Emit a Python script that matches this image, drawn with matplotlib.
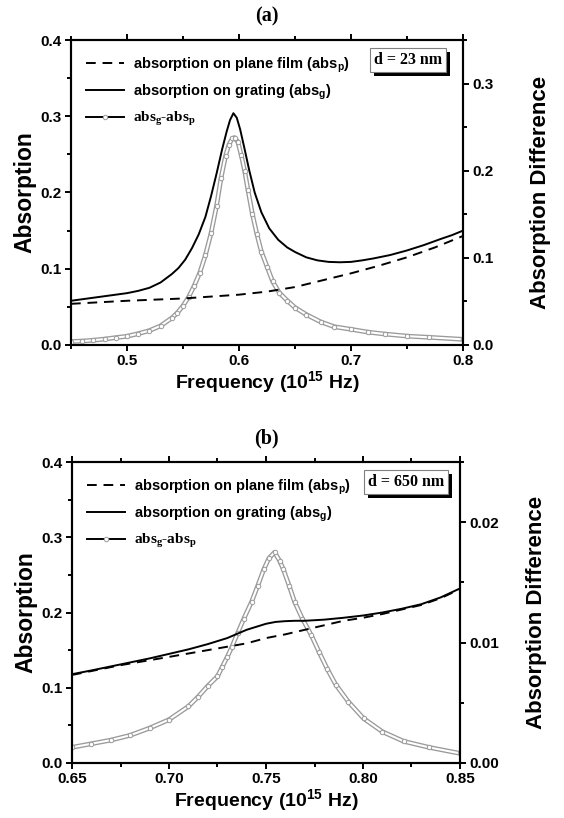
import matplotlib
matplotlib.use("Agg")
import matplotlib.pyplot as plt
from matplotlib.lines import Line2D
from matplotlib.patches import Rectangle
from matplotlib.ticker import MultipleLocator, FormatStrFormatter
from matplotlib.transforms import IdentityTransform

# ---- panel (a): d = 23 nm ----
freq_a_g = [0.45, 0.465, 0.48, 0.49, 0.50, 0.51, 0.52, 0.53, 0.54, 0.546, 0.552,
            0.558, 0.564, 0.570, 0.575, 0.580, 0.585, 0.589, 0.592, 0.595, 0.598,
            0.601, 0.605, 0.609, 0.614, 0.620, 0.627, 0.635, 0.643, 0.650, 0.660,
            0.670, 0.680, 0.690, 0.700, 0.710, 0.720, 0.735, 0.750, 0.765, 0.780,
            0.790, 0.800]
abs_g_a = [0.058, 0.061, 0.064, 0.066, 0.068, 0.071, 0.075, 0.082, 0.093, 0.101, 0.112,
           0.127, 0.145, 0.168, 0.195, 0.225, 0.257, 0.280, 0.295, 0.304, 0.298,
           0.283, 0.257, 0.230, 0.200, 0.174, 0.153, 0.138, 0.128, 0.122, 0.115,
           0.111, 0.109, 0.1085, 0.109, 0.111, 0.1135, 0.118, 0.124, 0.131, 0.139,
           0.144, 0.150]
freq_a_p = [0.45, 0.50, 0.55, 0.60, 0.625, 0.65, 0.675, 0.70, 0.725, 0.75, 0.775, 0.80]
abs_p_a = [0.054, 0.058, 0.061, 0.066, 0.070, 0.076, 0.085, 0.094, 0.104, 0.115, 0.128, 0.143]
freq_a_d = [0.45, 0.46, 0.47, 0.48, 0.49, 0.50, 0.51, 0.52, 0.53, 0.54, 0.545, 0.55,
            0.555, 0.56, 0.565, 0.570, 0.575, 0.580, 0.584, 0.588, 0.591, 0.594,
            0.596, 0.599, 0.602, 0.605, 0.608, 0.612, 0.616, 0.620, 0.625, 0.630,
            0.636, 0.643, 0.650, 0.660, 0.673, 0.685, 0.700, 0.715, 0.730, 0.750,
            0.770, 0.800]
diff_a = [0.004, 0.0045, 0.0055, 0.0068, 0.0085, 0.010, 0.013, 0.0165, 0.022, 0.031, 0.037, 0.045,
          0.055, 0.068, 0.083, 0.103, 0.128, 0.160, 0.192, 0.217, 0.230, 0.237,
          0.238, 0.233, 0.218, 0.200, 0.178, 0.150, 0.127, 0.107, 0.090, 0.073,
          0.060, 0.051, 0.043, 0.035, 0.0265, 0.021, 0.018, 0.0148, 0.0126, 0.0102,
          0.0088, 0.0065]

# ---- panel (b): d = 650 nm ----
freq_b_g = [0.65, 0.66, 0.675, 0.69, 0.70, 0.71, 0.72, 0.73, 0.74, 0.745, 0.75, 0.755,
            0.76, 0.765, 0.77, 0.78, 0.79, 0.80, 0.81, 0.82, 0.83, 0.84, 0.85]
abs_g_b = [0.118, 0.123, 0.131, 0.139, 0.145, 0.151, 0.158, 0.166, 0.177, 0.181, 0.185, 0.1875,
           0.1885, 0.189, 0.189, 0.1905, 0.193, 0.196, 0.200, 0.205, 0.211, 0.220, 0.232]
freq_b_p = [0.65, 0.675, 0.70, 0.72, 0.74, 0.75, 0.76, 0.77, 0.78, 0.79, 0.80, 0.81,
            0.82, 0.83, 0.84, 0.85]
abs_p_b = [0.117, 0.130, 0.141, 0.150, 0.159, 0.166, 0.171, 0.177, 0.183, 0.189, 0.193, 0.198,
           0.204, 0.210, 0.219, 0.231]
freq_b_d = [0.65, 0.66, 0.67, 0.68, 0.69, 0.70, 0.71, 0.715, 0.72, 0.725, 0.7275, 0.730,
            0.7323, 0.7354, 0.7386, 0.7426, 0.7457, 0.7489, 0.7515, 0.7544, 0.757, 0.7589,
            0.762, 0.7647, 0.7687, 0.7734, 0.7774, 0.7816, 0.786, 0.7924, 0.8003, 0.810,
            0.821, 0.834, 0.85]
diff_b = [0.0013, 0.0016, 0.0019, 0.0023, 0.0029, 0.0036, 0.0047, 0.0055, 0.0064, 0.0072, 0.0080, 0.0088,
          0.0096, 0.0108, 0.0120, 0.0134, 0.0147, 0.0161, 0.0170, 0.0175, 0.0168, 0.0161,
          0.0147, 0.0134, 0.0120, 0.0106, 0.0092, 0.0078, 0.0065, 0.0051, 0.0037, 0.0026,
          0.0018, 0.0013, 0.0008]

LABEL_P = "absorption on plane film (abs$_p$)"
LABEL_G = "absorption on grating (abs$_g$)"
LABEL_D = "abs$_g$-abs$_p$"

SANS = "Liberation Sans"
SERIF = "Liberation Serif"
GREY = "#9a9a9a"

plt.rcParams["font.family"] = SANS
plt.rcParams["font.weight"] = "bold"
plt.rcParams["axes.labelweight"] = "bold"
plt.rcParams["mathtext.default"] = "regular"


# Style the ticks and spines of one axis pair the way Origin draws them.
def _style_axes(ax, ax2):
    for a in (ax, ax2):
        for sp in a.spines.values():
            sp.set_linewidth(1.5)
    ax.tick_params(which="both", direction="out", width=1.4, labelsize=11,
                   top=True, right=False, pad=2)
    ax.tick_params(which="major", length=4.5)
    ax.tick_params(which="minor", length=3)
    ax2.tick_params(which="both", direction="out", width=1.4, labelsize=11, pad=2)
    ax2.tick_params(which="major", length=4.5)
    ax2.tick_params(which="minor", length=3)


# Draw one panel: the two absorption curves, the difference circles, legend and d-box.
def _panel(ax, title, fg, ag, fp, ap, fd, dd, xlim, xmaj, xfmt, rlim, rmaj, rfmt, dtext, boxy):
    ax2 = ax.twinx()
    ax.set_zorder(ax2.get_zorder() + 1)
    ax.patch.set_visible(False)

    ax.plot(fp, ap, color="black", lw=1.4, ls=(0, (5, 3.5)))
    ax.plot(fg, ag, color="black", lw=1.4)
    # difference: dense grey open circles
    ax2.plot(fd, dd, color=GREY, lw=3.4, solid_capstyle="round", zorder=1)
    ax2.plot(fd, dd, color="white", lw=1.5, solid_capstyle="round", zorder=2)
    ax2.plot(fd, dd, ls="none", marker="o", ms=3.2, mfc="white", mec=GREY, mew=0.7, zorder=3)

    ax.set_xlim(*xlim)
    ax.set_ylim(0, 0.4)
    ax2.set_ylim(*rlim)
    ax.xaxis.set_major_locator(MultipleLocator(xmaj))
    ax.xaxis.set_minor_locator(MultipleLocator(xmaj / 2))
    ax.xaxis.set_major_formatter(FormatStrFormatter(xfmt))
    ax.yaxis.set_major_locator(MultipleLocator(0.1))
    ax.yaxis.set_minor_locator(MultipleLocator(0.05))
    ax.yaxis.set_major_formatter(FormatStrFormatter("%.1f"))
    ax2.yaxis.set_major_locator(MultipleLocator(rmaj))
    ax2.yaxis.set_minor_locator(MultipleLocator(rmaj / 2))
    ax2.yaxis.set_major_formatter(FormatStrFormatter(rfmt))
    _style_axes(ax, ax2)

    ax.set_xlabel("Frequency (10$^{15}$ Hz)", fontsize=14, labelpad=1)
    ax.set_ylabel("Absorption", fontsize=16.5)
    ax.yaxis.set_label_coords(-0.088, 0.5)
    ax2.set_ylabel("Absorption Difference", fontsize=16)
    ax2.yaxis.set_label_coords(1.17, 0.5)
    ax.set_title(title, family=SERIF, fontsize=14.5, fontweight="bold", pad=13)

    handles = [
        Line2D([], [], color="black", lw=1.4, ls=(0, (5, 3.5))),
        Line2D([], [], color="black", lw=1.4),
        Line2D([], [], color="black", lw=1.4, marker="o", ms=3.2, mfc="white",
               mec=GREY, mew=0.7),
    ]
    leg = ax.legend(handles, [LABEL_P, LABEL_G, LABEL_D], loc="upper left",
                    frameon=False, fontsize=10.5, handlelength=2.6, handletextpad=0.6,
                    labelspacing=0.55, borderaxespad=0.65, borderpad=0.4)
    leg.get_texts()[2].set_family(SERIF)
    leg.get_texts()[2].set_fontsize(11)

    box = ax.text(0.86, boxy, dtext, transform=ax.transAxes, color="black", zorder=6,
                  ha="center", va="center", family=SERIF, fontsize=11.5, fontweight="bold",
                  bbox=dict(boxstyle="square,pad=0.25", fc="white", ec="#808080", lw=0.8))
    return box


def main():
    fig = plt.figure(figsize=(5.64, 8.18), dpi=100)
    ax_a = fig.add_axes([71 / 564, 1 - 345 / 818, 392 / 564, 305 / 818])
    ax_b = fig.add_axes([72 / 564, 1 - 763 / 818, 388 / 564, 301 / 818])

    box_a = _panel(ax_a, "(a)", freq_a_g, abs_g_a, freq_a_p, abs_p_a, freq_a_d, diff_a,
                   (0.45, 0.8), 0.1, "%.1f", (0, 0.35), 0.1, "%.1f", "d = 23 nm", 0.935)
    box_b = _panel(ax_b, "(b)", freq_b_g, abs_g_b, freq_b_p, abs_p_b, freq_b_d, diff_b,
                   (0.65, 0.85), 0.05, "%.2f", (0, 0.025), 0.01, "%.2f", "d = 650 nm", 0.935)

    # black drop shadow under each d-box, offset 4 px right and down
    fig.canvas.draw()
    for ax, box in ((ax_a, box_a), (ax_b, box_b)):
        bb = box.get_bbox_patch().get_window_extent()
        ax.add_patch(Rectangle((bb.x0 + 4, bb.y0 - 4), bb.width, bb.height,
                               transform=IdentityTransform(), fc="black", ec="none",
                               zorder=5, clip_on=False))

    fig.savefig("out.png", dpi=100)


if __name__ == "__main__":
    main()
